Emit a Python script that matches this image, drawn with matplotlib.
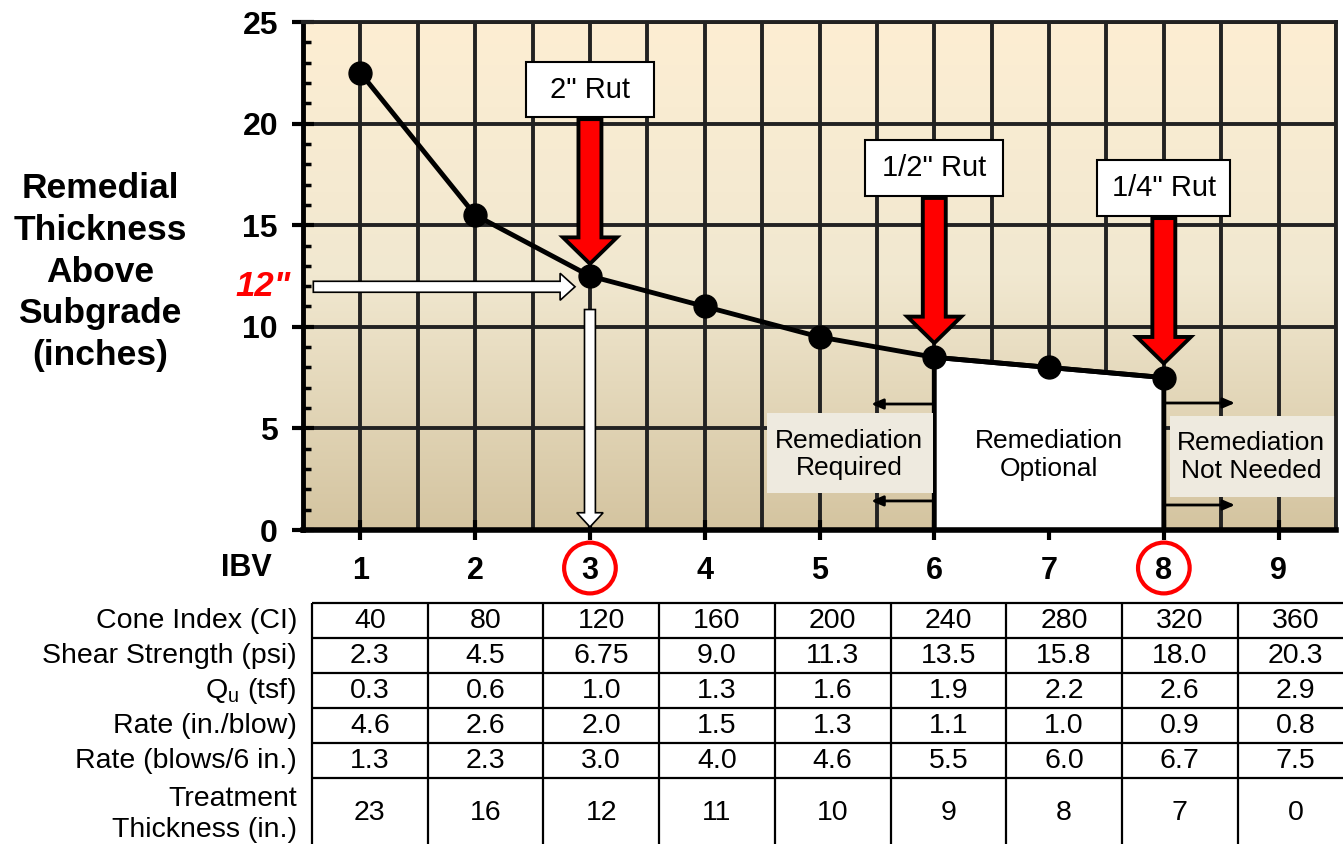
import matplotlib.pyplot as plt
import numpy as np
from matplotlib.patches import Rectangle, Polygon, Ellipse

plt.rcParams['font.family'] = ['Liberation Sans', 'DejaVu Sans']

# data
ibv = [1, 2, 3, 4, 5, 6, 7, 8, 9]
curve_ibv = [1, 2, 3, 4, 5, 6, 7, 8]
thickness = [22.5, 15.5, 12.5, 11.0, 9.5, 8.5, 8.0, 7.5]

row_labels = ['Cone Index (CI)', 'Shear Strength (psi)', 'Q$_\\mathregular{u}$ (tsf)',
              'Rate (in./blow)', 'Rate (blows/6 in.)', 'Treatment\nThickness (in.)']
cone_index = ['40', '80', '120', '160', '200', '240', '280', '320', '360']
shear_strength = ['2.3', '4.5', '6.75', '9.0', '11.3', '13.5', '15.8', '18.0', '20.3']
qu = ['0.3', '0.6', '1.0', '1.3', '1.6', '1.9', '2.2', '2.6', '2.9']
rate_in_blow = ['4.6', '2.6', '2.0', '1.5', '1.3', '1.1', '1.0', '0.9', '0.8']
rate_blows = ['1.3', '2.3', '3.0', '4.0', '4.6', '5.5', '6.0', '6.7', '7.5']
treatment = ['23', '16', '12', '11', '10', '9', '8', '7', '0']

W, H = 1343, 844
fig = plt.figure(figsize=(W / 100, H / 100), dpi=100)
ax = fig.add_axes([303 / W, 1 - 530 / H, (1336 - 303) / W, (530 - 22) / H])
ax.set_xlim(0.5, 9.5)
ax.set_ylim(0, 25)

# background gradient
top = np.array([253, 238, 211]) / 255
mid = np.array([241, 232, 208]) / 255
bot = np.array([212, 196, 160]) / 255
t = np.linspace(0, 1, 256)[:, None]
grad = np.where(t < 0.5, top + (mid - top) * (t / 0.5), mid + (bot - mid) * ((t - 0.5) / 0.5))
ax.imshow(grad[:, None, :], extent=(0.5, 9.5, 0, 25), aspect='auto', zorder=0)

# grid
ax.set_xticks(ibv)
ax.set_xticks(np.arange(0.5, 9.6, 0.5), minor=True)
ax.set_yticks(range(0, 26, 5))
ax.set_yticks(range(0, 26), minor=True)
ax.set_axisbelow(True)
ax.grid(True, which='both', axis='x', color='#222222', lw=2.8)
ax.grid(True, which='major', axis='y', color='#222222', lw=2.8)
for s in ['top', 'right']:
    ax.spines[s].set_color('#222222')
    ax.spines[s].set_linewidth(2.8)
ax.spines['left'].set_linewidth(3.5)
ax.spines['bottom'].set_linewidth(4)
ax.tick_params(axis='y', which='major', direction='inout', length=16, width=3, pad=10,
               labelsize=23)
ax.tick_params(axis='y', which='minor', direction='in', length=6, width=2.5)
ax.tick_params(axis='x', which='major', direction='inout', length=14, width=3, pad=12,
               labelsize=22)
ax.tick_params(axis='x', which='minor', length=0)
for lb in ax.get_xticklabels() + ax.get_yticklabels():
    lb.set_fontweight('bold')

# optional region
opt_x = [6, 7, 8]
opt_y = thickness[5:8]
poly = Polygon([(6, 0)] + list(zip(opt_x, opt_y)) + [(8, 0)], closed=False,
               fc='white', ec='black', lw=3.5, zorder=2)
ax.add_patch(poly)
ax.text(7, 3.69, 'Remediation\nOptional', ha='center', va='center', fontsize=19,
        linespacing=1.2, zorder=3)

# side boxes
ax.add_patch(Rectangle((4.54, 1.82), 1.45, 3.94, fc='#eeeadf', ec='none', zorder=2))
ax.text(5.26, 3.72, 'Remediation\nRequired', ha='center', va='center', fontsize=19,
        linespacing=1.2, zorder=3)
ax.add_patch(Rectangle((8.05, 1.62), 1.45, 3.99, fc='#eeeadf', ec='none', zorder=2))
ax.text(8.76, 3.59, 'Remediation\nNot Needed', ha='center', va='center', fontsize=19,
        linespacing=1.2, zorder=3)

arrow_kw = dict(arrowstyle='-|>,head_length=0.7,head_width=0.3', lw=2, color='black',
                shrinkA=0, shrinkB=0)
for yy in [6.2, 1.43]:
    ax.annotate('', xy=(5.45, yy), xytext=(6, yy), arrowprops=arrow_kw, zorder=3)
for yy in [6.25, 1.23]:
    ax.annotate('', xy=(8.62, yy), xytext=(8, yy), arrowprops=arrow_kw, zorder=3)

# curve
ax.plot(curve_ibv, thickness, color='black', lw=3.5, marker='o', ms=16.5, zorder=5)

# white guide arrows for 12"
ax.arrow(0.59, 11.97, 2.28, 0, width=0.54, head_width=1.33, head_length=0.13,
         length_includes_head=True, fc='white', ec='black', lw=1.2, zorder=4)
ax.arrow(3, 10.85, 0, -10.7, width=0.095, head_width=0.23, head_length=0.7,
         length_includes_head=True, fc='white', ec='black', lw=1.2, zorder=4)
ax.text(0.15, 11.97, '12"', color='#ff0000', fontsize=25, fontweight='bold',
        fontstyle='italic', ha='center', va='center', clip_on=False)

# red rut arrows with label boxes
ruts = [('2" Rut', 3, 2.445, 20.32, 23.03, 13.1),
        ('1/2" Rut', 6, 5.40, 16.44, 19.19, 9.2),
        ('1/4" Rut', 8, 7.42, 15.45, 18.21, 8.2)]
for label, x, bx, by0, by1, tip in ruts:
    bw = 2 * (x - bx)
    ax.add_patch(Rectangle((bx, by0), bw, by1 - by0, fc='white', ec='black', lw=1.5, zorder=6))
    ax.text(x, (by0 + by1) / 2, label, ha='center', va='center', fontsize=21, zorder=7)
    ax.arrow(x, by0 - 0.1, 0, tip - by0 + 0.1, width=0.2, head_width=0.47, head_length=1.3,
             length_includes_head=True, fc='#ff0000', ec='black', lw=2.8, zorder=6)

# IBV label and circles
fig.text(272 / W, 1 - 568 / H, 'IBV', ha='right', va='center', fontsize=22, fontweight='bold')
for x in [3, 8]:
    ax.add_patch(Ellipse((x, -1.87), 0.45, 2.5, fc='none', ec='#ff0000', lw=3,
                         clip_on=False, transform=ax.transData))

# y label
fig.text(100 / W, 1 - 272 / H, 'Remedial\nThickness\nAbove\nSubgrade\n(inches)',
         ha='center', va='center', fontsize=25.5, fontweight='bold', linespacing=1.34)

# table below
cw = 115.7
tx = fig.add_axes([312 / W, -4 / H, 9 * cw / W, 245 / H])
tx.set_xlim(0, 9)
tx.set_ylim(7, 0)
tx.axis('off')
tx.hlines([0, 1, 2, 3, 4, 5, 7], 0, 9, color='black', lw=1.6, clip_on=False)
tx.vlines(range(10), 0, 7, color='black', lw=1.6, clip_on=False)
rows = [cone_index, shear_strength, qu, rate_in_blow, rate_blows]
for r, vals in enumerate(rows):
    for c, v in enumerate(vals):
        tx.text(c + 0.5, r + 0.52, v, ha='center', va='center', fontsize=20.5)
for c, v in enumerate(treatment):
    tx.text(c + 0.5, 6, v, ha='center', va='center', fontsize=20.5)
for r, lab in enumerate(row_labels[:5]):
    tx.text(-0.13, r + 0.52, lab, ha='right', va='center', fontsize=20.5)
tx.text(-0.13, 6.05, row_labels[5], ha='right', va='center', fontsize=20.5,
        multialignment='right', linespacing=1.25)

fig.savefig('out.png', dpi=100)
